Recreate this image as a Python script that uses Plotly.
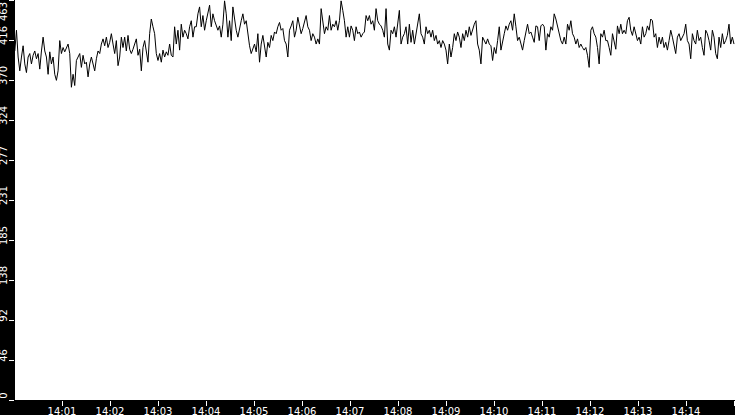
import pandas as pd
import plotly.graph_objects as go

# readings in order (one every ~2 s, 14:00:01 -> 14:15:00)
part1 = [404, 428, 397, 381, 397, 410, 389, 379, 397, 401, 389, 399, 404, 395, 401, 383, 404, 420,
         404, 397, 377, 403, 389, 397, 377, 370, 381, 416, 401, 408, 403, 408, 412, 401, 362, 377,
         364, 393, 397, 401, 385, 399, 389, 391, 374, 389, 397, 387, 381, 395, 404, 401, 412, 418,
         410, 420, 408, 414, 424, 412, 401, 416, 387, 397, 420, 408, 420, 404, 422, 406, 401, 406]
part2 = [412, 418, 399, 406, 381, 408, 416, 405, 391, 424, 441, 432, 424, 401, 393, 401, 391, 405,
         397, 403, 399, 412, 399, 397, 432, 412, 428, 405, 435, 420, 428, 424, 418, 432, 439, 420,
         432, 432, 447, 455, 432, 445, 428, 439, 449, 457, 432, 447, 439, 432, 428, 433, 420, 435,
         462, 447, 420, 439, 416, 455, 439, 428, 420, 432, 439, 447, 435, 439, 424]
part3 = [410, 401, 406, 412, 403, 424, 391, 412, 422, 408, 397, 414, 408, 422, 416, 426, 424, 432,
         437, 428, 430, 416, 412, 397, 428, 433, 439, 420, 428, 443, 435, 424, 430, 439, 445, 432,
         428, 416, 424, 420, 412, 418, 412, 453, 435, 424, 432, 428, 445, 428, 435, 432, 439, 428,
         439, 462, 451, 439, 420, 432, 420, 433, 428, 416, 432, 424, 426, 420, 424]
part4 = [426, 445, 439, 445, 435, 439, 428, 453, 439, 435, 433, 428, 420, 453, 412, 405, 428, 424,
         432, 420, 435, 451, 412, 420, 424, 432, 412, 435, 414, 428, 412, 424, 439, 447, 424, 420,
         412, 432, 424, 428, 420, 428, 416, 422, 412, 416, 408, 416, 412, 405, 389, 412, 397, 408,
         424, 416, 426, 420, 408, 424, 416, 428, 420, 432, 422, 430, 435, 439, 412]
part5 = [405, 389, 420, 416, 412, 418, 412, 410, 393, 408, 401, 416, 432, 405, 416, 424, 433, 428,
         435, 439, 428, 447, 432, 416, 420, 412, 405, 416, 424, 435, 424, 426, 420, 414, 433, 432,
         416, 433, 435, 432, 405, 424, 420, 432, 428, 447, 441, 432, 424, 416, 412, 420, 412, 435,
         428, 439, 424, 420, 412, 418, 408, 412, 408, 405, 408, 399, 385, 428, 432, 424, 420, 408,
         389, 424, 420]
part6 = [428, 416, 416, 408, 399, 424, 416, 406, 433, 424, 435, 424, 428, 424, 439, 443, 428, 422,
         432, 424, 416, 420, 412, 432, 420, 424, 433, 428, 441, 439, 420, 424, 408, 420, 412, 420,
         408, 414, 405, 416, 428, 420, 408, 401, 420, 424, 416, 420, 424, 435, 416, 412, 395, 424,
         416, 412, 428, 416, 420, 408, 399, 428, 424, 416, 405, 428, 420, 401, 395, 420, 408, 424,
         412, 416, 422, 435, 412, 420, 412]

values = part1 + part2 + part3 + part4 + part5 + part6
times = pd.date_range("2024-01-01 14:00:01", "2024-01-01 14:15:00", periods=len(values))

y_ticks = [0, 46.3, 92.6, 138.9, 185.2, 231.5, 277.8, 324.1, 370.4, 416.7, 463]
y_labels = ["0", "46", "92", "138", "185", "231", "277", "324", "370", "416", "463"]

fig = go.Figure()
fig.add_trace(go.Scatter(x=times, y=values, mode="lines",
                         line=dict(color="black", width=1), showlegend=False))

fig.update_layout(
    width=735, height=415,
    paper_bgcolor="black", plot_bgcolor="white",
    margin=dict(l=15, r=0, t=0, b=15),
    font=dict(family="DejaVu Sans", size=10, color="white"),
)
fig.update_xaxes(
    range=["2024-01-01 14:00:01.25", "2024-01-01 14:15:01.25"],
    tickformat="%H:%M", dtick=60000, ticks="outside", ticklen=5,
    tickcolor="white", showgrid=False, zeroline=False, showline=False,
    automargin=False, ticklabelstandoff=-3,
)
# top label would be half cut at the edge, so it goes in as an annotation below its tick
fig.update_yaxes(
    range=[0, 463], tickvals=y_ticks, ticktext=y_labels[:-1] + [""], tickangle=-90,
    ticks="outside", ticklen=5, tickcolor="white",
    showgrid=False, zeroline=False, showline=False,
    automargin=False, ticklabelstandoff=-2, ticklabelshift=-3,
)
fig.add_annotation(x=0, xref="paper", y=463, yref="y", text=y_labels[-1],
                   textangle=-90, showarrow=False, xanchor="right", yanchor="top",
                   xshift=-4, font=dict(size=10, color="white"))

# page body has a default 8px margin, drop it so the figure sits at the corner
fig.write_html("out.html", config={"displayModeBar": False},
               post_script="document.body.style.margin='0';")
